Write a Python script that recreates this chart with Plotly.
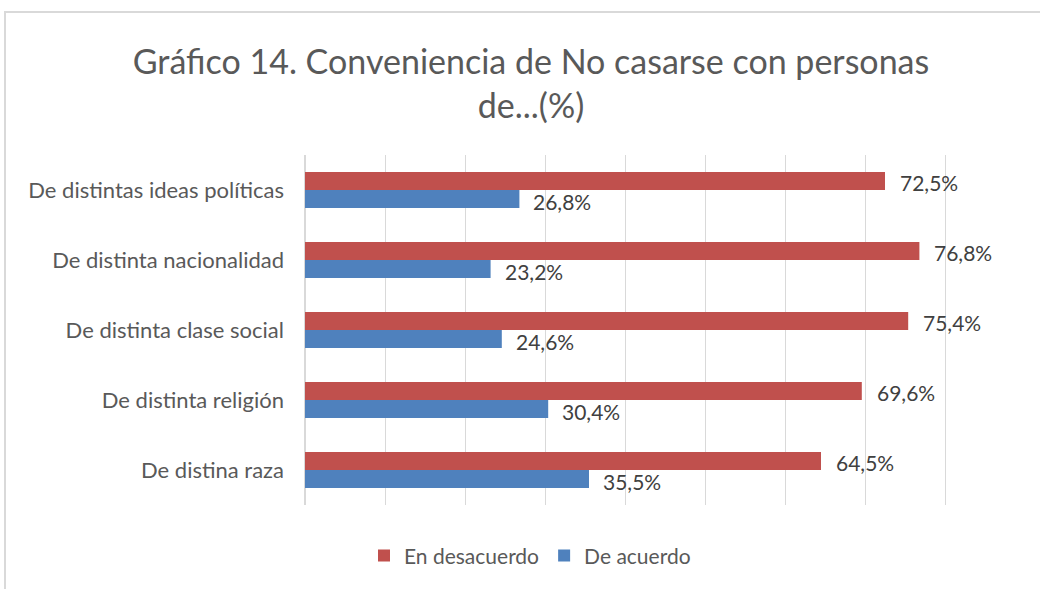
import plotly.graph_objects as go

categories = ["De distina raza", "De distinta religión", "De distinta clase social",
              "De distinta nacionalidad", "De distintas ideas políticas"]
en_desacuerdo = [64.5, 69.6, 75.4, 76.8, 72.5]
de_acuerdo = [35.5, 30.4, 24.6, 23.2, 26.8]

def fmt(v):
    return f"{v:.1f}%".replace(".", ",")

FONT = "Lato"
fig = go.Figure()
fig.add_trace(go.Bar(
    y=categories, x=de_acuerdo, orientation="h", name="De acuerdo",
    marker=dict(color="#4F81BD", line=dict(width=0)),
))
fig.add_trace(go.Bar(
    y=categories, x=en_desacuerdo, orientation="h", name="En desacuerdo",
    marker=dict(color="#C0504D", line=dict(width=0)),
))

annotations = []
for cat, v in zip(categories, de_acuerdo):
    annotations.append(dict(x=v, y=cat, xref="x", yref="y", text=fmt(v), showarrow=False,
                            xanchor="left", yanchor="middle", xshift=12, yshift=-11,
                            font=dict(size=21, color="#404040", family=FONT)))
for cat, v in zip(categories, en_desacuerdo):
    annotations.append(dict(x=v, y=cat, xref="x", yref="y", text=fmt(v), showarrow=False,
                            xanchor="left", yanchor="middle", xshift=13, yshift=8,
                            font=dict(size=21, color="#404040", family=FONT)))

fig.update_layout(
    width=1040, height=589,
    paper_bgcolor="white", plot_bgcolor="white",
    margin=dict(l=305, r=15, t=155, b=84),
    barmode="group", bargap=0.486, bargroupgap=0,
    title=dict(text="Gráfico 14. Conveniencia de No casarse con personas<br>de...(%)",
               x=531 / 1040, xanchor="center", y=1 - 74 / 589, yanchor="middle",
               font=dict(size=34, color="#595959", family=FONT)),
    font=dict(family=FONT, color="#595959"),
    xaxis=dict(range=[0, 90], dtick=10, showgrid=True, gridcolor="#d9d9d9", gridwidth=1,
               showticklabels=False, zeroline=True, zerolinecolor="#d9d9d9",
               showline=False, ticks=""),
    yaxis=dict(showgrid=False, ticks="", ticklabelstandoff=20,
               tickfont=dict(size=22, color="#595959", family=FONT), showline=False),
    legend=dict(orientation="h", x=(530 - 305) / 720, xanchor="center", y=-0.145, yanchor="middle",
                traceorder="reversed", font=dict(size=21, color="#595959", family=FONT),
                itemwidth=30),
    annotations=annotations,
    shapes=[dict(type="rect", xref="paper", yref="paper",
                 x0=(5 - 305) / 720, x1=(1100 - 305) / 720,
                 y0=-(640 - 505) / 350, y1=(505 - 12) / 350,
                 line=dict(color="#d9d9d9", width=2), fillcolor="rgba(0,0,0,0)", layer="below")],
)

fig.write_html("out.html", config={"displayModeBar": False},
               post_script="document.body.style.margin='0';")
